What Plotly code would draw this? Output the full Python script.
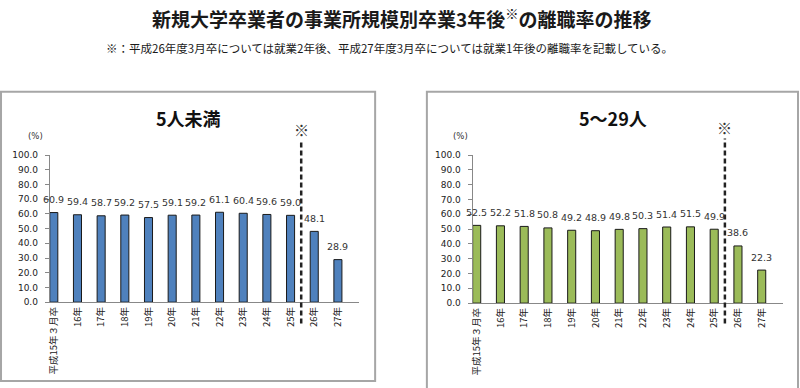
import plotly.graph_objects as go

# ---- data ----
categories = ["平成15年３月卒", "16年", "17年", "18年", "19年", "20年", "21年",
              "22年", "23年", "24年", "25年", "26年", "27年"]
small_values = [60.9, 59.4, 58.7, 59.2, 57.5, 59.1, 59.2, 61.1, 60.4, 59.6, 59.0, 48.1, 28.9]
mid_values = [52.5, 52.2, 51.8, 50.8, 49.2, 48.9, 49.8, 50.3, 51.4, 51.5, 49.9, 38.6, 22.3]
y_ticks = [0, 10, 20, 30, 40, 50, 60, 70, 80, 90, 100]
panel_titles = ["5人未満", "5～29人"]
main_title = "新規大学卒業者の事業所規模別卒業3年後<sup>※</sup>の離職率の推移"
note_text = "※：平成26年度3月卒については就業2年後、平成27年度3月卒については就業1年後の離職率を記載している。"

W, H = 800, 388
def px(x):
    return x / W
def py(y):
    return 1 - y / H

JP = "Noto Sans CJK JP"
NUM = "DejaVu Sans"
xs = list(range(len(categories)))
split_x = 10.45

fig = go.Figure()
fig.add_trace(go.Bar(x=xs, y=small_values, width=0.34,
                     marker=dict(color="#4F81BD", line=dict(color="#1a1a1a", width=1)),
                     xaxis="x", yaxis="y", hoverinfo="skip"))
fig.add_trace(go.Bar(x=xs, y=mid_values, width=0.34,
                     marker=dict(color="#9BBB59", line=dict(color="#1a1a1a", width=1)),
                     xaxis="x2", yaxis="y2", hoverinfo="skip"))

xr = [-0.17, 12.9]
common_x = dict(range=xr, tickmode="array", tickvals=xs, ticktext=categories,
                tickangle=-90, showline=True, linecolor="#888888", linewidth=1,
                showgrid=False, zeroline=False, ticks="",
                tickfont=dict(family=JP, size=9.5, color="#222222"))
common_y = dict(range=[0, 100], tickmode="array", tickvals=y_ticks,
                ticktext=[f"{v:.1f}" for v in y_ticks],
                showline=True, linecolor="#888888", linewidth=1,
                showgrid=False, zeroline=False, ticks="outside", ticklen=4,
                tickcolor="#888888", ticklabelstandoff=5,
                tickfont=dict(family=NUM, size=9, color="#222222"))

fig.update_layout(
    width=W, height=H, margin=dict(l=0, r=0, t=0, b=0),
    paper_bgcolor="white", plot_bgcolor="white", showlegend=False,
    xaxis=dict(domain=[px(46), px(357)], anchor="y", **common_x),
    yaxis=dict(domain=[py(305), py(154)], anchor="x", **common_y),
    xaxis2=dict(domain=[px(471), px(783)], anchor="y2", **common_x),
    yaxis2=dict(domain=[py(306), py(154)], anchor="x2", **common_y),
)

shapes = [
    dict(type="rect", xref="paper", yref="paper", x0=px(-3), x1=px(373), y0=py(386), y1=py(89),
         line=dict(color="#a6a6a6", width=2)),
    dict(type="rect", xref="paper", yref="paper", x0=px(425), x1=px(798), y0=py(395), y1=py(89),
         line=dict(color="#a6a6a6", width=2)),
    dict(type="line", xref="x", yref="paper", x0=split_x, x1=split_x, y0=py(327), y1=py(139),
         line=dict(color="#222222", width=2.5, dash="5px,3px")),
    dict(type="line", xref="x2", yref="paper", x0=split_x, x1=split_x, y0=py(327), y1=py(137),
         line=dict(color="#222222", width=2.5, dash="5px,3px")),
]
fig.update_layout(shapes=shapes)

def label(text, x, y, size, family=JP, color="#1a1a1a", xref="paper"):
    return dict(text=text, x=x, y=y, xref=xref, yref="paper", showarrow=False,
                xanchor="center", yanchor="middle",
                font=dict(family=family, size=size, color=color))

ann = [
    label("<b>" + main_title + "</b>", 0.5, py(13), 19),
    label(note_text, px(387), py(44), 11.5),
    label("<b>" + panel_titles[0] + "</b>", px(185), py(116), 18, color="#111111"),
    label("<b>" + panel_titles[1] + "</b>", px(612), py(116), 18, color="#111111"),
    label("(%)", px(32), py(134), 8.5, family=NUM, color="#333333"),
    label("(%)", px(459), py(134), 8.5, family=NUM, color="#333333"),
    label("※", split_x, py(128), 15, color="#333333", xref="x"),
    label("※", split_x, py(126), 15, color="#333333", xref="x2"),
]
for i, v in enumerate(small_values):
    ann.append(dict(text=f"{v:.1f}", x=i, y=v, xref="x", yref="y", showarrow=False,
                    yshift=13, font=dict(family=NUM, size=9.5, color="#333333")))
for i, v in enumerate(mid_values):
    ann.append(dict(text=f"{v:.1f}", x=i, y=v, xref="x2", yref="y2", showarrow=False,
                    yshift=13, font=dict(family=NUM, size=9.5, color="#333333")))
fig.update_layout(annotations=ann)

fig.write_html("out.html", config={"displayModeBar": False},
               post_script="document.body.style.margin='0';document.body.style.overflow='hidden';")
